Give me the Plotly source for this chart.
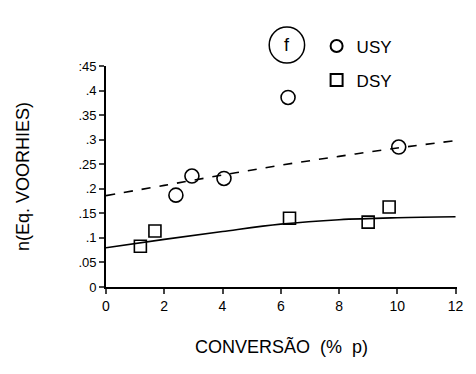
import plotly.graph_objects as go

# Data
usy_x = [2.4, 2.95, 4.05, 6.25, 10.05]
usy_y = [0.187, 0.226, 0.221, 0.386, 0.285]
dsy_x = [1.18, 1.68, 6.3, 9.0, 9.72]
dsy_y = [0.083, 0.114, 0.140, 0.132, 0.163]

fit_x = [0, 2, 4, 6, 8, 10, 12]
usy_fit = [0.186, 0.207, 0.228, 0.248, 0.266, 0.283, 0.298]
dsy_fit = [0.080, 0.097, 0.113, 0.128, 0.137, 0.141, 0.143]

x_ticks = [0, 2, 4, 6, 8, 10, 12]
y_ticks = [0, 0.05, 0.1, 0.15, 0.2, 0.25, 0.3, 0.35, 0.4, 0.45]
y_tick_labels = ["0", ".05", ".1", ".15", ".2", ".25", ".3", ".35", ".4", ":45"]

FONT = "Liberation Sans, Arial, sans-serif"

fig = go.Figure()
fig.add_trace(go.Scatter(x=fit_x, y=usy_fit, mode="lines", line=dict(color="black", width=1.6, dash="dash", shape="spline"),
                         showlegend=False, hoverinfo="skip"))
fig.add_trace(go.Scatter(x=fit_x, y=dsy_fit, mode="lines", line=dict(color="black", width=1.6, shape="spline"),
                         showlegend=False, hoverinfo="skip"))
fig.add_trace(go.Scatter(x=usy_x, y=usy_y, mode="markers", name="USY", legendgroup="a",
                         marker=dict(symbol="circle-open", size=14, color="black", line=dict(width=1.6))))
fig.add_trace(go.Scatter(x=dsy_x, y=dsy_y, mode="markers", name="DSY", legendgroup="b",
                         marker=dict(symbol="square-open", size=12, color="black", line=dict(width=1.6))))

fig.update_layout(
    width=476, height=374,
    margin=dict(l=106, r=13, t=66, b=87),
    paper_bgcolor="white", plot_bgcolor="white",
    font=dict(family=FONT, color="black", size=13),
    legend=dict(x=0.6, y=1.17, xanchor="left", yanchor="top", font=dict(size=17),
                bgcolor="rgba(0,0,0,0)", tracegroupgap=9, itemwidth=30, itemsizing="constant"),
    xaxis=dict(range=[0, 12.05], tickvals=x_ticks, ticks="outside", ticklen=5, tickwidth=1.8,
               showline=True, linecolor="black", linewidth=1.8, showgrid=False, zeroline=False,
               tickfont=dict(size=14), automargin=True,
               title=dict(text="CONVERSÃO  (%  p)", font=dict(size=18), standoff=28)),
    yaxis=dict(range=[0, 0.45], tickvals=y_ticks, ticktext=y_tick_labels, ticks="outside", ticklen=5,
               tickwidth=1.8, showline=True, linecolor="black", linewidth=1.8, showgrid=False, zeroline=False,
               tickfont=dict(size=13), automargin=True,
               title=dict(text="n(Eq. VOORHIES)", font=dict(size=18), standoff=44)),
    shapes=[dict(type="circle", xref="paper", yref="paper",
                 x0=(272 - 106) / 357, x1=(308 - 106) / 357,
                 y0=(287 - 63) / 221, y1=(287 - 27) / 221,
                 line=dict(color="black", width=1.5))],
    annotations=[dict(text="f", xref="paper", yref="paper", x=(290 - 106) / 357, y=(287 - 45) / 221,
                      showarrow=False, font=dict(size=18), xanchor="center", yanchor="middle")],
)

fig.write_html("out.html")
